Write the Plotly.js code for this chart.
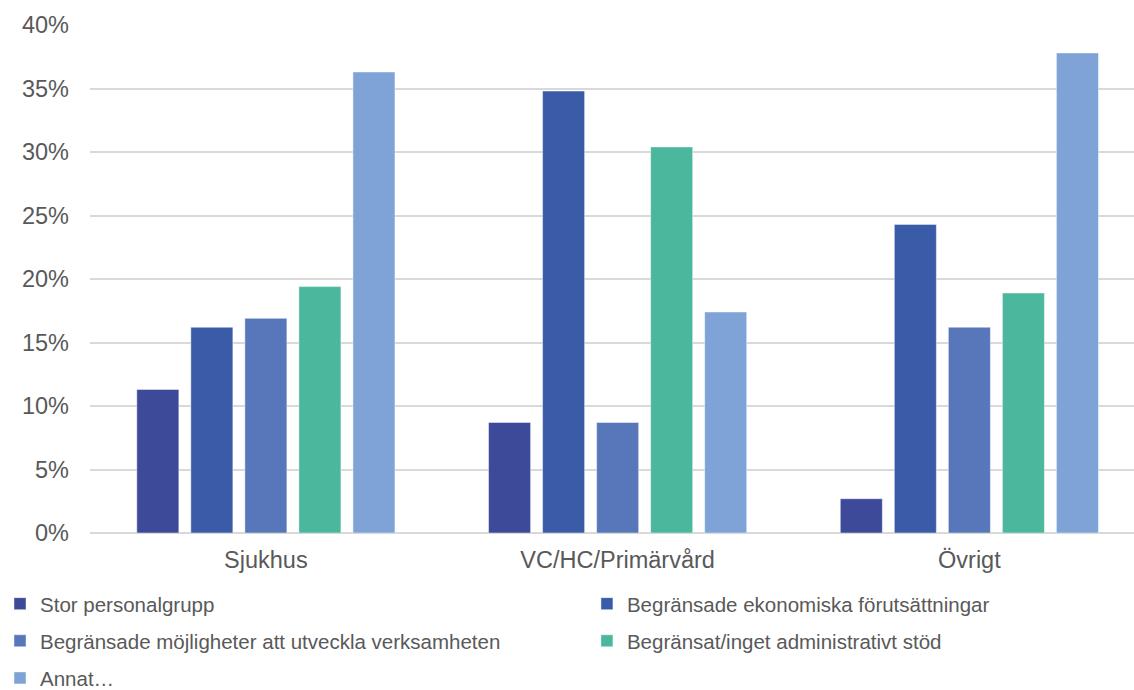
<!DOCTYPE html>
<html>
<head>
<meta charset="utf-8">
<script src="https://cdn.plot.ly/plotly-3.0.1.min.js"></script>
<style>
  html, body { margin: 0; padding: 0; background: #ffffff; }
  #chart { width: 1134px; height: 690px; }
</style>
</head>
<body>
<div id="chart"></div>
<script>
// Categories (x axis)
const categories = ["Sjukhus", "VC/HC/Primärvård", "Övrigt"];

// Series names
const seriesNames = [
  "Stor personalgrupp",
  "Begränsade ekonomiska förutsättningar",
  "Begränsade möjligheter att utveckla verksamheten",
  "Begränsat/inget administrativt stöd",
  "Annat…"
];

// Series values (percent)
const storPersonalgrupp = [11.3, 8.7, 2.7];
const ekonomiska = [16.2, 34.8, 24.3];
const mojligheter = [16.9, 8.7, 16.2];
const administrativt = [19.4, 30.4, 18.9];
const annat = [36.3, 17.4, 37.8];

const seriesValues = [storPersonalgrupp, ekonomiska, mojligheter, administrativt, annat];

const seriesColors = ["#3D4A9A", "#3A5BA8", "#5876BA", "#4BB79C", "#7FA3D6"];

// Legend column for each series (two-column legend, read row by row)
const legendColumn = ["legend", "legend2", "legend", "legend2", "legend"];

const textColor = "#595959";
const fontFamily = "Liberation Sans, Arial, sans-serif";

const traces = seriesNames.map((name, i) => ({
  type: "bar",
  name: name,
  x: categories,
  y: seriesValues[i],
  legend: legendColumn[i],
  legendgroup: "g" + i,
  marker: {
    color: seriesColors[i],
    line: { color: "rgba(255,255,255,0.45)", width: 1 }
  },
  hoverinfo: "x+y+name"
}));

const legendCommon = {
  orientation: "v",
  xanchor: "left",
  y: -0.1,
  yanchor: "top",
  tracegroupgap: 7.5,
  font: { size: 20.5, color: textColor, family: fontFamily },
  bgcolor: "rgba(0,0,0,0)",
  traceorder: "grouped",
  itemclick: false,
  itemdoubleclick: false
};

const layout = {
  width: 1134,
  height: 690,
  paper_bgcolor: "#ffffff",
  plot_bgcolor: "#ffffff",
  margin: { l: 90, r: 0, t: 25, b: 157, pad: 0, autoexpand: false },
  barmode: "group",
  bargap: 0.232,
  bargroupgap: 0.222,
  font: { family: fontFamily, color: textColor, size: 20.5 },
  xaxis: {
    type: "category",
    range: [-0.5, 2.468],
    showgrid: false,
    showline: false,
    zeroline: false,
    ticks: "",
    tickfont: { size: 23.5, color: textColor, family: fontFamily },
    ticklabelstandoff: 10,
    fixedrange: true
  },
  yaxis: {
    range: [0, 40],
    dtick: 5,
    ticksuffix: "%",
    showgrid: true,
    gridcolor: "#D9D9D9",
    gridwidth: 2,
    zeroline: true,
    zerolinecolor: "#D9D9D9",
    zerolinewidth: 2,
    showline: false,
    ticks: "",
    tickfont: { size: 23.5, color: textColor, family: fontFamily },
    ticklabelstandoff: 20,
    fixedrange: true
  },
  showlegend: true,
  legend: Object.assign({}, legendCommon, { x: -0.0862 }),
  legend2: Object.assign({}, legendCommon, { x: 0.476 })
};

Plotly.newPlot("chart", traces, layout, { displayModeBar: false, staticPlot: true });
</script>
</body>
</html>
